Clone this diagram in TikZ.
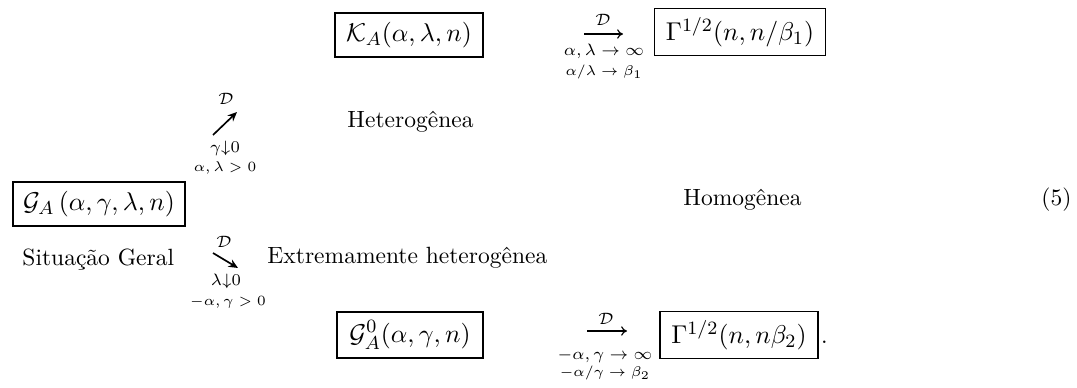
\documentclass[tikz,border=0pt]{standalone}
\usetikzlibrary{arrows.meta}
\newlength\pxu
\setlength\pxu{0.4255pt}
\begin{document}
\begin{tikzpicture}[x=0.4255pt,y=-0.4255pt,
  mbox/.style={draw,line width=0.7pt,inner sep=3.6pt,minimum height=44\pxu,font=\fontsize{11}{13}\selectfont},
  lbl/.style={inner sep=0pt,anchor=base west,font=\fontsize{10}{12}\selectfont},
  cond/.style={inner sep=0pt,font=\fontsize{7}{8}\selectfont},
  condb/.style={inner sep=0pt,font=\fontsize{6}{7}\selectfont},
  harr/.style={line width=0.5pt,-{Computer Modern Rightarrow[length=2.5pt,width=4pt]}},
  darr/.style={line width=0.7pt,-{Stealth[length=4pt,width=3.5pt]}}
]
\useasboundingbox (0,0) rectangle (1077,388);
% boxes
\node[mbox,minimum width=148\pxu] (K) at (409,35) {$\mathcal{K}_A(\alpha,\lambda,n)$};
\node[mbox,minimum width=171\pxu] (Gt) at (740,32) {$\Gamma^{1/2}(n,n/\beta_1)$};
\node[mbox,minimum width=172\pxu] (GA) at (99,204) {$\mathcal{G}_A\,(\alpha,\gamma,\lambda,n)$};
\node[mbox,minimum width=146\pxu] (G0) at (410,335) {$\mathcal{G}^0_A(\alpha,\gamma,n)$};
\node[mbox,minimum width=158\pxu] (Gb) at (739,335) {$\Gamma^{1/2}(n,n\beta_2)$};
\node[inner sep=0.8pt,anchor=base west] (dot) at (Gb.base east) {.};
% labels
\node[lbl] (het) at (347,127) {Heterogênea};
\node[lbl] (hom) at (683,205) {Homogênea};
\node[lbl] (num) at (1041,205) {(5)};
\node[lbl] (sit) at (22,265) {Situação Geral};
\node[lbl] (ext) at (267,263) {Extremamente heterogênea};
% top horizontal arrow
\coordinate (ta1) at (584,34);
\coordinate (ta2) at (623,34);
\draw[harr] (ta1) -- (ta2);
\node[cond] (tD) at (603,20) {$\mathcal{D}$};
\node[cond] (tc1) at (604,51) {$\alpha,\lambda\to\infty$};
\node[condb] (tc2) at (604,72) {$\alpha/\lambda\to\beta_1$};
% bottom horizontal arrow
\coordinate (ba1) at (587,331);
\coordinate (ba2) at (627,331);
\draw[harr] (ba1) -- (ba2);
\node[cond] (bD) at (606,319) {$\mathcal{D}$};
\node[cond] (bc1) at (605,356) {$-\alpha,\gamma\to\infty$};
\node[condb] (bc2) at (605,373) {$-\alpha/\gamma\to\beta_2$};
% NE arrow
\coordinate (na1) at (213,135);
\coordinate (na2) at (237,112);
\draw[darr] (na1) -- (na2);
\node[cond] (nD) at (226,99) {$\mathcal{D}$};
\node[cond] (nc1) at (225,148) {$\gamma{\downarrow}0$};
\node[condb] (nc2) at (225,168) {$\alpha,\lambda>0$};
% SE arrow
\coordinate (sa1) at (213,253);
\coordinate (sa2) at (238,268);
\draw[darr] (sa1) -- (sa2);
\node[cond] (sD) at (224,242) {$\mathcal{D}$};
\node[cond] (sc1) at (226,281) {$\lambda{\downarrow}0$};
\node[condb] (sc2) at (228,302) {$-\alpha,\gamma>0$};
\end{tikzpicture}
\end{document}
